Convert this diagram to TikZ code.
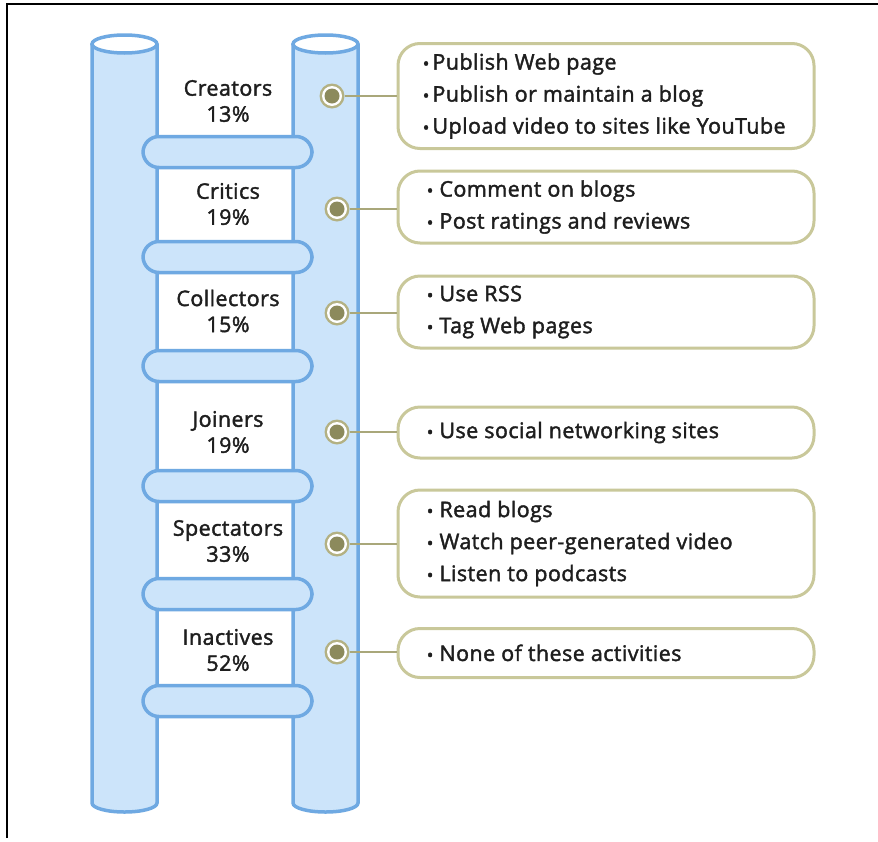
\documentclass[tikz,border=0pt]{standalone}
\usepackage{fontspec}
\setmainfont{Open Sans}[FakeBold=1.8,LetterSpace=2]
\definecolor{postfill}{HTML}{CCE4FA}
\definecolor{postline}{HTML}{6FA9E2}
\definecolor{boxline}{HTML}{C9C89A}
\definecolor{dotfill}{HTML}{8C8A5C}
\definecolor{dotring}{HTML}{B3B183}
\definecolor{connc}{HTML}{A9A77A}
\definecolor{txt}{HTML}{1E1E1E}
\newcommand{\bul}[1][6pt]{{\fontsize{18}{18}\selectfont\raisebox{-0.5pt}{•}}\hspace{#1}}
\begin{document}
\begin{tikzpicture}[x=1pt,y=-1pt,
  postst/.style={fill=postfill,draw=postline,line width=3.5pt},
  rungst/.style={rectangle,rounded corners=16pt,fill=postfill,draw=postline,line width=3.5pt,minimum width=169pt,minimum height=31pt,inner sep=0pt},
  lab/.style={align=center,font=\fontsize{21.5}{26}\selectfont,text=txt,inner sep=0pt},
  boxst/.style={rectangle,rounded corners=22pt,draw=boxline,line width=3pt,fill=white,minimum width=416pt,inner sep=0pt},
  txtst/.style={anchor=west,align=left,inner sep=0pt,font=\fontsize{21.5}{32}\selectfont,text=txt},
  dotst/.style={circle,fill=dotring,minimum size=25pt,inner sep=0pt,
    path picture={\fill[white] (path picture bounding box.center) circle (10pt);
                  \fill[dotfill] (path picture bounding box.center) circle (7.5pt);}},
  conn/.style={draw=connc,line width=2pt}
]
\useasboundingbox (0,0) rectangle (878,841);
\fill[white] (0,0) rectangle (878,841);
% frame
\draw[line width=2.5pt,black] (7,838) -- (7,4) -- (878,4);
% posts
\foreach \cx in {124.5,325.5}{
  \draw[postst] (\cx-32.5,44) -- (\cx-32.5,803) arc[start angle=180,end angle=360,x radius=32.5,y radius=-9] -- (\cx+32.5,44);
  \draw[fill=white,draw=postline,line width=3.5pt] (\cx,44) ellipse[x radius=32.5,y radius=9];
}
% rungs
\node[rungst] (r1) at (227.5,152) {};
\node[rungst] (r2) at (227.5,257) {};
\node[rungst] (r3) at (227.5,366) {};
\node[rungst] (r4) at (227.5,486) {};
\node[rungst] (r5) at (227.5,594) {};
\node[rungst] (r6) at (227.5,701) {};
% labels
\node[lab] (l1) at (228,101) {Creators\\13\%};
\node[lab] (l2) at (228,204) {Critics\\19\%};
\node[lab] (l3) at (228,311) {Collectors\\15\%};
\node[lab] (l4) at (228,432) {Joiners\\19\%};
\node[lab] (l5) at (228,541) {Spectators\\33\%};
\node[lab] (l6) at (228,650) {Inactives\\52\%};
% boxes
\node[boxst,minimum height=105pt] (b1) at (606,96) {};
\node[boxst,minimum height=72pt] (b2) at (606,207) {};
\node[boxst,minimum height=72pt] (b3) at (606,312) {};
\node[boxst,minimum height=51pt] (b4) at (606,432.5) {};
\node[boxst,minimum height=107pt] (b5) at (606,543.5) {};
\node[boxst,minimum height=49pt] (b6) at (606,653) {};
% box texts
\node[txtst] (t1) at ([xshift=26pt]b1.west) {\bul[3pt]Publish Web page\\\bul[3pt]Publish or maintain a blog\\\bul[3pt]Upload video to sites like YouTube};
\node[txtst] (t2) at ([xshift=30pt]b2.west) {\bul Comment on blogs\\\bul Post ratings and reviews};
\node[txtst] (t3) at ([xshift=30pt]b3.west) {\bul Use RSS\\\bul Tag Web pages};
\node[txtst] (t4) at ([xshift=30pt]b4.west) {\bul Use social networking sites};
\node[txtst] (t5) at ([xshift=30pt]b5.west) {\bul Read blogs\\\bul Watch peer-generated video\\\bul Listen to podcasts};
\node[txtst] (t6) at ([xshift=30pt]b6.west) {\bul None of these activities};
% dots
\node[dotst] (d1) at (332,96) {};
\node[dotst] (d2) at (337,209) {};
\node[dotst] (d3) at (337,313) {};
\node[dotst] (d4) at (337,432) {};
\node[dotst] (d5) at (337,544) {};
\node[dotst] (d6) at (337,652) {};
% connectors
\foreach \i in {1,...,6}{
  \draw[conn] (d\i.east) -- (d\i.east -| b\i.west);
}
\end{tikzpicture}
\end{document}
